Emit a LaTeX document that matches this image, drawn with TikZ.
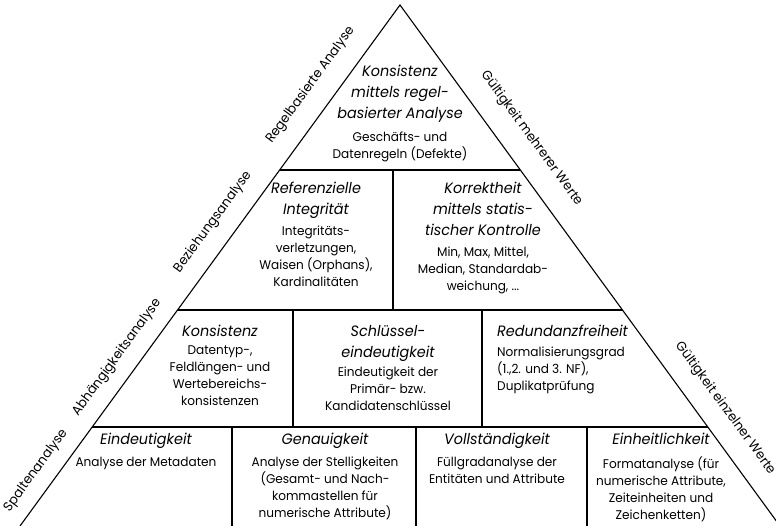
\documentclass[tikz,border=0pt]{standalone}
\usepackage{fontspec}
\setmainfont{Poppins}[FakeStretch=0.96]
\begin{document}
\begin{tikzpicture}[x=1pt,y=-1pt,
  titlef/.style={font=\fontsize{15}{21}\selectfont\itshape, align=center, inner sep=0pt, anchor=north},
  bodyf/.style={font=\fontsize{12.6}{16.8}\selectfont, align=center, inner sep=0pt, anchor=north},
  sidel/.style={font=\fontsize{13.2}{16}\selectfont, inner sep=0pt, rotate=53.9},
  sider/.style={font=\fontsize{13.2}{16}\selectfont, inner sep=0pt, rotate=-53.9},
  inner line/.style={line width=2.6pt, black},
  outer line/.style={line width=1.1pt, black}]
\useasboundingbox (0,0) rectangle (776,526);
\coordinate (L) at (20,526);
\coordinate (A) at (400,5);
\coordinate (R) at (780,526);
% shadow
\foreach \s/\o in {1/0.18,2/0.12,3/0.07,4/0.04}{
  \fill[black, opacity=\o] ([yshift=-\s pt]L) -- ([yshift=-\s pt]A) -- ([yshift=-\s pt]R) -- cycle;
}
\fill[white] (L) -- (A) -- (R) -- cycle;
\begin{scope}
\clip (L) -- (A) -- (R) -- cycle;
\draw[inner line] (270,170) -- (530,170);
\draw[inner line] (170,310) -- (630,310);
\draw[inner line] (80,427) -- (720,427);
\draw[inner line] (393,170) -- (393,310);
\draw[inner line] (293,310) -- (293,427);
\draw[inner line] (482,310) -- (482,427);
\draw[inner line] (232,427) -- (232,530);
\draw[inner line] (416,427) -- (416,530);
\draw[inner line] (587,427) -- (587,530);
\end{scope}
\draw[outer line] (L) -- (A) -- (R);
\draw[black!20, line width=1pt] (L) -- (R);
% side labels
\node[sidel] (s1) at (310.5,85) {Regelbasierte Analyse};
\node[sidel] (s2) at (213,222) {Beziehungsanalyse};
\node[sidel] (s3) at (117,357.5) {Abhängigkeitsanalyse};
\node[sidel] (s4) at (36,470.5) {Spaltenanalyse};
\node[sider] (s5) at (531.5,138.5) {Gültigkeit mehrerer Werte};
\node[sider] (s6) at (725,408.5) {Gültigkeit einzelner Werte};
% row 1
\node[titlef] (t1) at (400,65) {Konsistenz\\mittels regel-\\basierter Analyse};
\node[bodyf] (b1) at (400,132) {Geschäfts- und\\Datenregeln (Defekte)};
% row 2
\node[titlef] (t2) at (316,182) {Referenzielle\\Integrität};
\node[bodyf] (b2) at (316,226) {Integritäts-\\verletzungen,\\Waisen (Orphans),\\Kardinalitäten};
\node[titlef] (t3) at (483,182) {Korrektheit\\mittels statis-\\tischer Kontrolle};
\node[bodyf] (b3) at (483,247) {Min, Max, Mittel,\\Median, Standardab-\\weichung, ...};
% row 3
\node[titlef] (t4) at (220,325) {Konsistenz};
\node[bodyf] (b4) at (220,346) {Datentyp-,\\Feldlängen- und\\Wertebereichs-\\konsistenzen};
\node[titlef] (t5) at (388,325) {Schlüssel-\\eindeutigkeit};
\node[bodyf] (b5) at (388,367) {Eindeutigkeit der\\Primär- bzw.\\Kandidatenschlüssel};
\node[titlef, anchor=north west, align=left] (t6) at (497,325) {Redundanzfreiheit};
\node[bodyf, anchor=north west, align=left] (b6) at (497,347) {Normalisierungsgrad\\(1.,2. und 3. NF),\\Duplikatprüfung};
% row 4
\node[titlef] (t7) at (146,433) {Eindeutigkeit};
\node[bodyf] (b7) at (146,457) {Analyse der Metadaten};
\node[titlef] (t8) at (325,433) {Genauigkeit};
\node[bodyf] (b8) at (325,457) {Analyse der Stelligkeiten\\(Gesamt- und Nach-\\kommastellen für\\numerische Attribute)};
\node[titlef] (t9) at (497,433) {Vollständigkeit};
\node[bodyf] (b9) at (497,457) {Füllgradanalyse der\\Entitäten und Attribute};
\node[titlef] (t10) at (661,433) {Einheitlichkeit};
\node[bodyf] (b10) at (661,457) {Formatanalyse (für\\numerische Attribute,\\Zeiteinheiten und\\Zeichenketten)};
\end{tikzpicture}
\end{document}
